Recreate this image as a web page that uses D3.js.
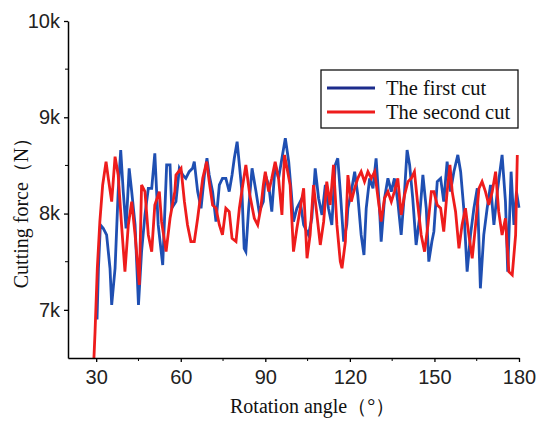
<!DOCTYPE html>
<html><head><meta charset="utf-8">
<script src="https://cdn.jsdelivr.net/npm/d3@7"></script>
<style>
body{margin:0;background:#fff;}
svg{display:block;}
</style></head>
<body>
<svg id="chart" width="537" height="423"></svg>
<script>
// ---- data ----
const xTicks = [30, 60, 90, 120, 150, 180];
const xMinorTicks = [45, 75, 105, 135, 165];
const yTicks = [7000, 8000, 9000, 10000];
const yMinorTicks = [7500, 8500, 9500];
const seriesNames = ["The first cut", "The second cut"];

const firstAngle = [30.3,30.8,31.5,32.5,33.7,34.9,35.5,36.7,37.8,38.7,39.6,40.6,41.7,42.6,43.8,45.0,46.1,47.3,48.5,49.7,50.8,52.0,53.6,55.0,56.2,56.8,58.3,
  59.5,60.7,61.8,63.0,64.2,64.8,66.0,67.2,68.4,69.3,70.1,71.3,72.5,73.7,74.8,76.0,77.2,78.2,79.0,80.0,80.8,81.7,82.5,83.1,84.1,85.3,86.7,87.8,89.3,
  90.0,91.2,92.3,93.5,94.7,95.9,97.1,98.3,99.2,100.0,101.2,102.4,103.6,105.3,106.5,107.7,108.9,110.1,111.3,112.4,113.6,114.8,115.7,116.6,117.8,118.9,
  119.3,120.5,121.7,122.8,124.0,125.0,125.8,127.0,128.2,129.3,130.5,131.1,132.3,133.5,134.7,135.8,137.0,138.2,139.4,140.3,141.2,142.3,143.5,144.7,145.9,147.1,148.0,149.1,
  149.8,151.0,152.2,153.3,154.5,155.7,156.9,158.3,159.3,160.4,161.6,162.8,164.0,165.2,166.3,167.5,168.7,169.9,171.1,172.3,174.0,175.2,176.0,177.2,178.2,179.1,180.0];
const firstForce = [6900,7432,7882,7847,7778,7432,7051,7432,8228,8660,8228,7847,8470,8228,7882,7051,7605,7986,8262,8262,8626,7882,7466,8505,8505,8055,8124,
  8470,8401,8366,8435,8470,8539,8228,8055,8401,8574,8401,8228,7916,8297,8366,8366,8228,8401,8574,8747,8505,8228,7639,7605,8055,8470,8228,8020,8124,
  8401,8297,8020,8505,8366,8574,8782,8539,8228,7916,8055,8124,7882,7778,7951,8470,8159,7986,8297,8055,7882,8505,8574,8228,7709,7882,
  8055,8228,8435,8193,7778,7570,8055,8366,8262,8574,8055,7709,8159,8366,8228,8366,8124,7778,8228,8660,8505,8159,7674,7951,8401,8055,7501,7709,
  7812,8332,8366,8124,8539,8228,8435,8609,8435,8055,7397,7778,8055,8262,7224,7778,8055,8297,7882,8228,8609,8124,7397,8435,7882,8228,8060];

const secondAngle = [29.2,29.6,30.4,31.3,32.3,33.5,34.3,35.5,36.7,37.8,39.0,40.2,41.4,42.6,43.8,45.3,46.1,47.3,48.5,49.7,50.8,52.4,53.2,54.8,56.2,57.9,
  58.3,60.1,61.3,62.4,63.6,64.8,66.0,67.8,69.2,70.1,71.3,72.5,73.7,74.8,76.0,77.2,78.2,79.6,80.8,82.0,83.1,84.5,86.1,87.3,88.4,89.3,
  90.0,91.2,92.3,93.5,94.7,95.9,96.8,97.7,98.8,100.0,101.2,102.4,103.6,104.8,105.9,107.1,108.3,109.5,110.7,111.8,113.0,114.2,115.4,116.6,117.2,118.4,
  119.3,120.5,121.7,122.8,124.0,125.2,126.4,127.6,128.8,130.0,131.1,132.3,133.5,134.7,135.8,137.0,138.2,139.4,140.6,141.8,142.9,144.1,145.3,146.5,147.7,148.9,
  149.8,151.0,152.2,153.3,154.5,155.5,156.3,157.5,158.7,159.8,161.0,162.2,163.4,164.6,165.8,166.9,168.1,169.3,170.5,171.7,172.8,174.0,175.2,176.4,177.6,178.8,179.4];
const secondForce = [6500,6774,7432,7916,8297,8539,8366,8124,8591,8401,7882,7397,7882,8124,7778,7259,8297,8228,7778,7605,8089,8228,7916,7605,7951,8228,
  8401,8470,8124,7882,7709,7709,7951,8366,8539,8332,8089,8055,7882,7778,8055,8020,7743,7709,8055,8297,8505,8193,7951,7882,8055,8297,
  8435,8228,8366,8539,8366,7986,8609,8470,8297,7605,7847,8055,8262,7536,7778,8297,7986,7674,7916,8332,8089,8505,7882,7501,7432,7709,
  8400,8124,8262,8366,8435,8332,8435,8366,8435,8159,7916,8159,8228,8124,8228,8366,7986,8193,8332,8366,8435,8089,7778,7605,7882,8228,
  8228,8089,8055,7812,8228,8505,8228,8020,7639,7882,8055,7778,7536,7882,8262,8332,8228,8089,8228,8435,8020,7778,7951,7397,7363,7778,8609];

// ---- layout ----
const svg = d3.select("#chart");
const mLeft = 68, mRight = 519, mTop = 21, mBottom = 358;
const x = d3.scaleLinear().domain([20, 180]).range([mLeft, mRight]);
const y = d3.scaleLinear().domain([6500, 10000]).range([mBottom, mTop]);
const blue = "#1f4fb2", red = "#ee1c1c";
const sans = "'Liberation Sans', Arial, sans-serif";
const serif = "'Liberation Serif', 'Times New Roman', serif";

svg.append("defs").append("clipPath").attr("id", "clip")
  .append("rect").attr("x", mLeft).attr("y", mTop).attr("width", mRight - mLeft + 4).attr("height", mBottom - mTop);

const line = d3.line().x(d => x(d[0])).y(d => y(d[1]));
const plot = svg.append("g").attr("clip-path", "url(#clip)");
const s1 = firstAngle.map((a, i) => [a, firstForce[i]]);
const s2 = secondAngle.map((a, i) => [a, secondForce[i]]);
plot.append("path").datum(s1).attr("d", line).attr("fill", "none")
  .attr("stroke", blue).attr("stroke-width", 2.8).attr("stroke-linejoin", "miter");
plot.append("path").datum(s2).attr("d", line).attr("fill", "none")
  .attr("stroke", red).attr("stroke-width", 2.8).attr("stroke-linejoin", "miter");

// axes
const xAxis = d3.axisBottom(x).tickValues(xTicks).tickSize(4).tickPadding(8).tickSizeOuter(0);
const gx = svg.append("g").attr("transform", `translate(0,${mBottom})`).call(xAxis);
gx.selectAll("text").attr("font-family", sans).attr("font-size", 20).attr("fill", "#222");
gx.append("g").selectAll("line").data(xMinorTicks).join("line")
  .attr("x1", d => x(d)).attr("x2", d => x(d)).attr("y1", 0).attr("y2", 3).attr("stroke", "#000");

const yAxis = d3.axisLeft(y).tickValues(yTicks).tickFormat(d => d / 1000 + "k")
  .tickSize(4).tickPadding(4).tickSizeOuter(0);
const gy = svg.append("g").attr("transform", `translate(${mLeft},0)`).call(yAxis);
gy.selectAll("text").attr("font-family", sans).attr("font-size", 20).attr("fill", "#222");
gy.append("g").selectAll("line").data(yMinorTicks).join("line")
  .attr("y1", d => y(d)).attr("y2", d => y(d)).attr("x1", 0).attr("x2", -3).attr("stroke", "#000");
svg.selectAll(".domain").attr("stroke", "#000").attr("stroke-width", 1.5);
svg.selectAll(".tick line").attr("stroke-width", 1.3);

// axis titles
svg.append("text").attr("x", 230).attr("y", 413).attr("font-family", serif)
  .attr("font-size", 20).attr("fill", "#111").text("Rotation angle（°）");
svg.append("text").attr("transform", "translate(28,208) rotate(-90)")
  .attr("text-anchor", "middle").attr("font-family", serif)
  .attr("font-size", 20).attr("fill", "#111").text("Cutting force（N）");

// legend
const lg = svg.append("g");
lg.append("rect").attr("x", 321).attr("y", 70).attr("width", 197).attr("height", 58)
  .attr("fill", "#fff").attr("stroke", "#111").attr("stroke-width", 1.3);
[blue, red].forEach((c, i) => {
  const yy = 88 + i * 24;
  lg.append("line").attr("x1", 327).attr("x2", 375).attr("y1", yy).attr("y2", yy)
    .attr("stroke", i === 0 ? "#1c2c8c" : c).attr("stroke-width", 2.8);
  lg.append("text").attr("x", 386).attr("y", yy + 7).attr("font-family", serif)
    .attr("font-size", 20.5).attr("fill", "#111").text(seriesNames[i]);
});
</script>
</body></html>
